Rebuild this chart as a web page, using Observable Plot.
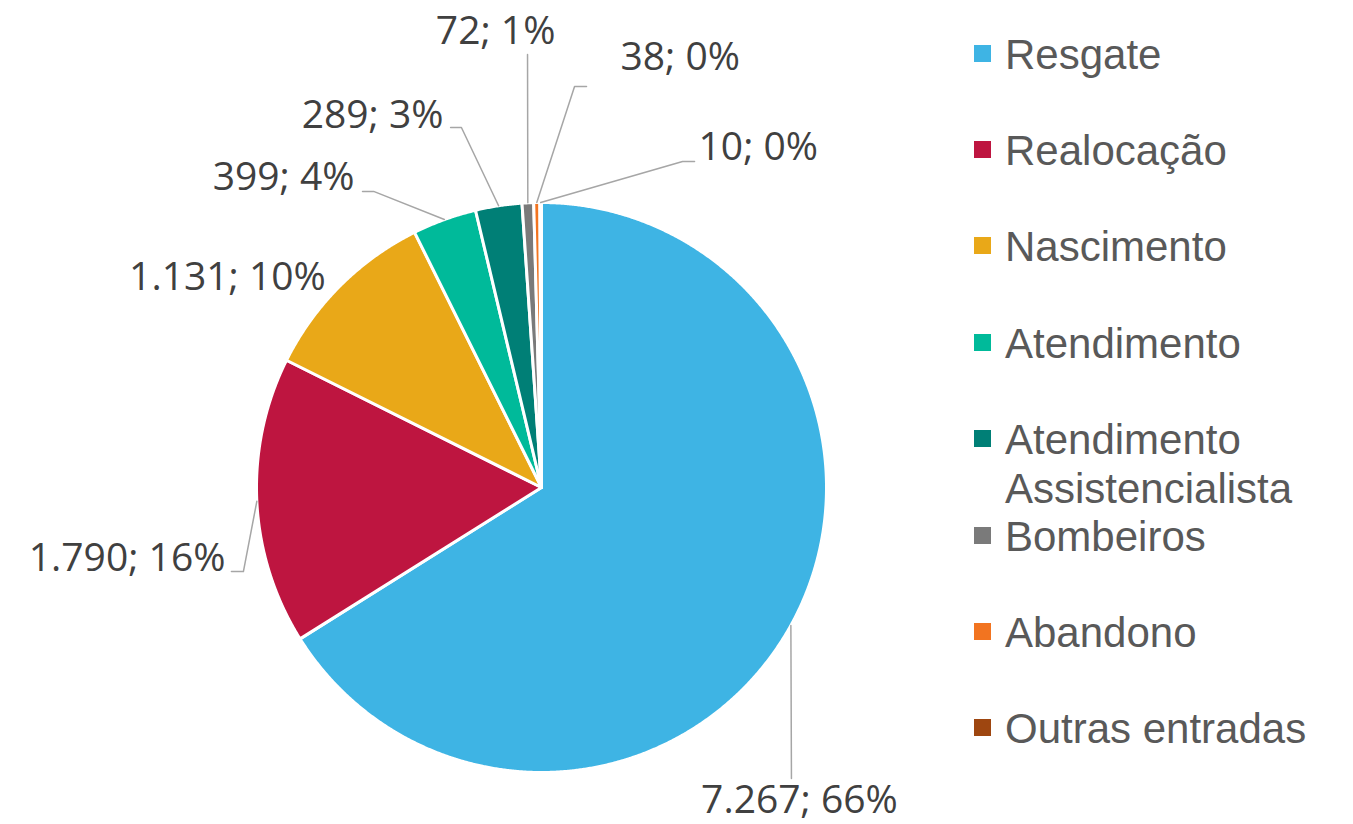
<!DOCTYPE html>
<html>
<head>
<meta charset="utf-8">
<script src="https://cdn.jsdelivr.net/npm/d3@7"></script>
<script src="https://cdn.jsdelivr.net/npm/@observablehq/plot@0.6"></script>
<style>
  html, body { margin: 0; padding: 0; background: #fff; }
  #wrap { position: relative; width: 1353px; height: 824px; display: flex; }
  #chart svg { display: block; }
  #legend { position: relative; flex: 1; font-family: "Liberation Sans", Arial, sans-serif; font-size: 42px; color: #595959; }
  .item { position: absolute; left: 14px; display: flex; align-items: flex-start; }
  .sw { width: 17px; height: 17px; margin-top: 15px; margin-right: 14px; flex: none; }
  .txt { line-height: 49px; max-width: 340px; }
</style>
</head>
<body>
<div id="wrap"><div id="chart"></div><div id="legend"></div></div>
<script>
// ---- data ----
const categories = ["Resgate", "Realocação", "Nascimento", "Atendimento", "Atendimento Assistencialista", "Bombeiros", "Abandono", "Outras entradas"];
const values = [7267, 1790, 1131, 399, 289, 72, 38, 10];
const colors = ["#3EB4E4", "#BE1540", "#E9A818", "#00BA9A", "#007F76", "#7A7A7A", "#F27420", "#9E4610"];

// ---- label layout (in pie-radius units, x right / y up from pie centre) ----
const labelLayout = [
  {anchor: "middle", tx: 0.905, ty: -1.097, path: [[0.877, -1.021]]},
  {anchor: "end", tx: -1.109, ty: -0.249, path: [[-1.046, -0.295], [-1.088, -0.295]]},
  {anchor: "middle", tx: -1.102, ty: 0.737, path: []},
  {anchor: "end", tx: -0.656, ty: 1.088, path: [[-0.589, 1.039], [-0.628, 1.039]]},
  {anchor: "end", tx: -0.344, ty: 1.305, path: [[-0.281, 1.263], [-0.319, 1.263]]},
  {anchor: "middle", tx: -0.161, ty: 1.600, path: [[-0.049, 1.519]]},
  {anchor: "start", tx: 0.277, ty: 1.509, path: [[0.116, 1.407], [0.158, 1.407]]},
  {anchor: "start", tx: 0.551, ty: 1.193, path: [[0.495, 1.144], [0.537, 1.144]]}
];

const W = 960, H = 824, CX = 541, CY = 487, R = 285;

const total = d3.sum(values);
const fmt = d3.formatLocale({decimal: ",", thousands: ".", grouping: [3], currency: ["", ""]}).format(",d");
const arcs = d3.pie().sort(null).value(d => d)(values);

// slice polygons
const slicePts = [];
arcs.forEach((a, i) => {
  const cat = categories[i];
  slicePts.push({cat, x: 0, y: 0});
  const step = Math.PI / 720;
  const n = Math.max(2, Math.ceil((a.endAngle - a.startAngle) / step));
  for (let k = 0; k <= n; k++) {
    const t = a.startAngle + (a.endAngle - a.startAngle) * k / n;
    slicePts.push({cat, x: Math.sin(t), y: Math.cos(t)});
  }
});

// labels and leaders
const labels = arcs.map((a, i) => ({
  cat: categories[i],
  text: fmt(values[i]) + "; " + Math.round(values[i] / total * 100) + "%",
  mid: (a.startAngle + a.endAngle) / 2,
  ...labelLayout[i]
}));
const leaderPts = [];
labels.forEach(l => {
  if (!l.path.length) return;
  leaderPts.push({cat: l.cat, x: Math.sin(l.mid), y: Math.cos(l.mid)});
  l.path.forEach(p => leaderPts.push({cat: l.cat, x: p[0], y: p[1]}));
});

const textMark = (anchor) => Plot.text(labels.filter(l => l.anchor === anchor), {
  x: "tx", y: "ty", text: "text", textAnchor: anchor,
  fill: "#404040", fontSize: 39, letterSpacing: "-0.3px", fontFamily: "'Open Sans', 'Noto Sans', sans-serif"
});

const chart = Plot.plot({
  width: W, height: H,
  marginTop: 0, marginRight: 0, marginBottom: 0, marginLeft: 0,
  x: {domain: [-CX / R, (W - CX) / R], axis: null},
  y: {domain: [-(H - CY) / R, CY / R], axis: null},
  color: {domain: categories, range: colors},
  marks: [
    Plot.line(slicePts, {x: "x", y: "y", z: "cat", fill: "cat", stroke: "white", strokeWidth: 3, strokeLinejoin: "round", curve: "linear-closed"}),
    Plot.line(leaderPts, {x: "x", y: "y", z: "cat", stroke: "#A6A6A6", strokeWidth: 1.5}),
    textMark("middle"), textMark("end"), textMark("start")
  ]
});
document.getElementById("chart").appendChild(chart);

// legend
const legend = document.getElementById("legend");
categories.forEach((c, i) => {
  const it = document.createElement("div");
  it.className = "item";
  it.style.top = (54 + 96.4 * i - 24.5) + "px";
  const sw = document.createElement("div");
  sw.className = "sw";
  sw.style.background = colors[i];
  const tx = document.createElement("div");
  tx.className = "txt";
  tx.textContent = c;
  it.appendChild(sw); it.appendChild(tx);
  legend.appendChild(it);
});
</script>
</body>
</html>
